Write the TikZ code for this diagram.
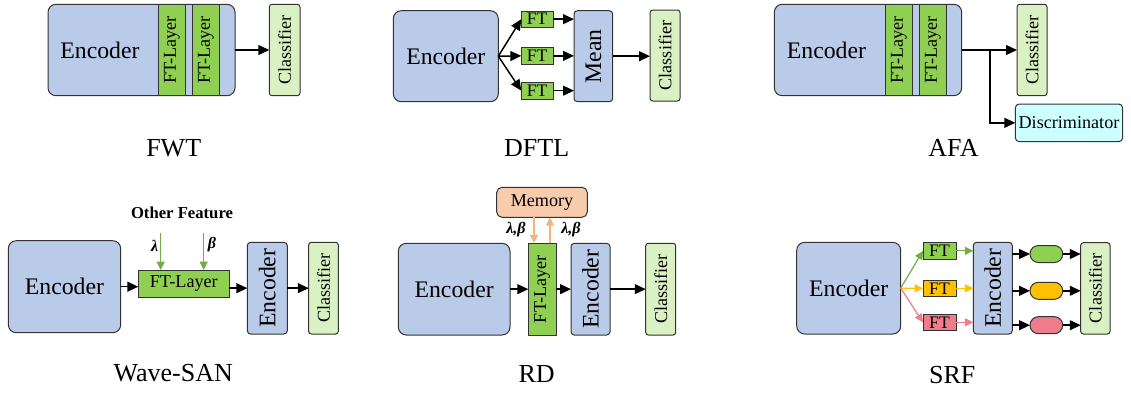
\documentclass[tikz,border=0pt]{standalone}
\usepackage{fontspec}
\setmainfont{Liberation Serif}
\usetikzlibrary{arrows.meta}
\definecolor{encblue}{HTML}{BACBE9}
\definecolor{ftgreen}{HTML}{8FD053}
\definecolor{clsgreen}{HTML}{D9F1C3}
\definecolor{disccyan}{HTML}{CCFFFF}
\definecolor{mempeach}{HTML}{F8CBAD}
\definecolor{memarrow}{HTML}{F4B183}
\definecolor{arrgreen}{HTML}{70AD47}
\definecolor{ftorange}{HTML}{FFC000}
\definecolor{ftpink}{HTML}{EE7C8C}
\definecolor{edgegray}{HTML}{333333}
% box from pixel corners: style, name, x1, y1, x2, y2, text
\newcommand\bx[7]{\node[#1, minimum width={(#5-#3)*0.75pt}, minimum height={(#6-#4)*0.75pt}] (#2) at ({(#3+#5)/2},{(#4+#6)/2}) {#7};}
\begin{document}
\begin{tikzpicture}[x=0.75pt,y=-0.75pt,
 base/.style={draw=edgegray, line width=0.75pt, inner sep=0pt, outer sep=0pt},
 encbox/.style={base, fill=encblue, rounded corners=6pt},
 encsmall/.style={base, fill=encblue, rounded corners=2.5pt},
 ftbox/.style={base, fill=ftgreen},
 clsbox/.style={base, fill=clsgreen, rounded corners=2pt},
 discbox/.style={base, fill=disccyan, rounded corners=3pt},
 membox/.style={base, fill=mempeach, rounded corners=4pt},
 pill/.style={base, rounded corners=6.3pt},
 bigtxt/.style={font=\fontsize{17.8}{20}\selectfont},
 midtxt/.style={font=\fontsize{13.6}{16}\selectfont},
 fttxt/.style={font=\fontsize{13.2}{15}\selectfont},
 titletxt/.style={font=\fontsize{19.5}{22}\selectfont},
 greektxt/.style={font=\fontsize{12}{14}\selectfont\bfseries\itshape},
 arr/.style={-{Triangle[length=8.2pt,width=7.4pt]}, line width=1.1pt, black},
 carr/.style={-{Triangle[length=6.3pt,width=6pt]}, line width=0.9pt},
]
\useasboundingbox (0,0) rectangle (1131,393);

% ---------------- FWT ----------------
\bx{encbox}{fwtE}{48}{4.3}{235}{95.7}{}
\node[bigtxt] (fwtEt) at (100,50) {Encoder};
\bx{ftbox, midtxt}{fwtF1}{158.3}{4.3}{185.3}{95.7}{\rotatebox{90}{FT-Layer}}
\bx{ftbox, midtxt}{fwtF2}{192.7}{4.3}{219.3}{95.7}{\rotatebox{90}{FT-Layer}}
\bx{clsbox, midtxt}{fwtC}{269.3}{4.3}{300}{95.7}{\rotatebox{90}{Classifier}}
\draw[arr] (fwtE.east) -- (fwtC.west);
\node[titletxt] (fwtT) at (173.7,148) {FWT};

% ---------------- DFTL ----------------
\bx{encbox, bigtxt}{dE}{393.3}{10.7}{498.3}{101.7}{Encoder}
\bx{ftbox, fttxt}{dF1}{521.3}{11}{553}{27.3}{FT}
\bx{ftbox, fttxt}{dF2}{521.3}{47.7}{553}{64}{FT}
\bx{ftbox, fttxt}{dF3}{521.3}{82.3}{553}{99}{FT}
\bx{encsmall, bigtxt}{dM}{574}{10.7}{612.7}{101.7}{\rotatebox{90}{Mean}}
\bx{clsbox, midtxt}{dC}{650}{10}{680}{101}{\rotatebox{90}{Classifier}}
\draw[arr] (dE.east) -- (dF1.west);
\draw[arr] (dE.east) -- (dF2.west);
\draw[arr] (dE.east) -- (dF3.west);
\draw[arr] (dF1.east) -- (dF1.east -| dM.west);
\draw[arr] (dF2.east) -- (dF2.east -| dM.west);
\draw[arr] (dF3.east) -- (dF3.east -| dM.west);
\draw[arr] (dM.east) -- (dM.east -| dC.west);
\node[titletxt] (dT) at (536.7,148) {DFTL};

% ---------------- AFA ----------------
\bx{encbox}{aE}{774.3}{4.3}{961.7}{95.7}{}
\node[bigtxt] (aEt) at (826.5,50) {Encoder};
\bx{ftbox, midtxt}{aF1}{885.3}{4.3}{912.3}{95.7}{\rotatebox{90}{FT-Layer}}
\bx{ftbox, midtxt}{aF2}{919.3}{4.3}{946.3}{95.7}{\rotatebox{90}{FT-Layer}}
\bx{clsbox, midtxt}{aC}{1017}{4.3}{1047}{95.7}{\rotatebox{90}{Classifier}}
\bx{discbox, midtxt}{aD}{1015.3}{104}{1122.7}{141.7}{Discriminator}
\coordinate (aB) at (990,50);
\draw[arr] (aE.east) -- (aE.east -| aC.west);
\draw[arr] (aB) |- (aD.west);
\node[titletxt] (aT) at (953.5,148) {AFA};

% ---------------- Wave-SAN ----------------
\node[font=\fontsize{12.5}{14}\selectfont\bfseries] (wO) at (182,212.7) {Other Feature};
\bx{encbox, bigtxt}{wE}{8.3}{240.7}{120.7}{332.7}{Encoder}
\bx{ftbox, midtxt}{wF}{138.3}{270}{229.3}{297.3}{FT-Layer}
\bx{encsmall, bigtxt}{wE2}{247.3}{242.3}{287.3}{334}{\rotatebox{90}{Encoder}}
\bx{clsbox, midtxt}{wC}{308.7}{242.3}{338.3}{334}{\rotatebox{90}{Classifier}}
\coordinate (wl) at (160.7,232.7);
\coordinate (wb) at (203.7,232.7);
\draw[carr, arrgreen] (wl) -- (wl |- wF.north);
\draw[carr, arrgreen] (wb) -- (wb |- wF.north);
\node[greektxt] (wlt) at (154.7,245.5) {λ};
\node[greektxt] (wbt) at (212,245) {β};
\draw[arr] (wE.east) -- (wE.east -| wF.west);
\draw[arr] (wF.east |- wE2.west) -- (wE2.west);
\draw[arr] (wE2.east) -- (wC.west);
\node[titletxt] (wT) at (173.3,372.7) {Wave-SAN};

% ---------------- RD ----------------
\bx{membox, midtxt}{rM}{496.7}{187.3}{587.3}{217.3}{Memory}
\bx{encbox, bigtxt}{rE}{398.3}{243.3}{510}{335}{Encoder}
\bx{ftbox, midtxt}{rF}{528.3}{243.3}{556}{335}{\rotatebox{90}{FT-Layer}}
\bx{encsmall, bigtxt}{rE2}{571}{243.3}{610}{335}{\rotatebox{90}{Encoder}}
\bx{clsbox, midtxt}{rC}{645.7}{243.3}{675.7}{335}{\rotatebox{90}{Classifier}}
\coordinate (rd) at (534,217.3);
\coordinate (ru) at (550,243.3);
\draw[carr, memarrow, line width=1.2pt] (rd) -- (rd |- rF.north);
\draw[carr, memarrow, line width=1.2pt] (ru) -- (ru |- rM.south);
\node[greektxt] (rl1) at (516,230) {λ,β};
\node[greektxt] (rl2) at (571,230) {λ,β};
\draw[arr] (rE.east) -- (rF.west);
\draw[arr] (rF.east) -- (rE2.west);
\draw[arr] (rE2.east) -- (rC.west);
\node[titletxt] (rT) at (536.7,374.3) {RD};

% ---------------- SRF ----------------
\bx{encbox, bigtxt}{sE}{796.7}{242.3}{900.7}{334}{Encoder}
\bx{base, fill=ftgreen, fttxt}{sF1}{923}{242.7}{956}{259}{FT}
\bx{base, fill=ftorange, fttxt}{sF2}{923}{280}{956}{296.7}{FT}
\bx{base, fill=ftpink, fttxt}{sF3}{923}{314}{956}{330.7}{FT}
\bx{encsmall, bigtxt}{sE2}{973.3}{242.3}{1012.3}{334}{\rotatebox{90}{Encoder}}
\bx{pill, fill=ftgreen}{sP1}{1030}{245.5}{1062.7}{262.5}{}
\bx{pill, fill=ftorange}{sP2}{1030}{282.3}{1062.7}{299.3}{}
\bx{pill, fill=ftpink}{sP3}{1030}{316.7}{1062.7}{333.7}{}
\bx{clsbox, midtxt}{sC}{1080.7}{242.7}{1110}{334}{\rotatebox{90}{Classifier}}
\draw[carr, arrgreen] (sE.east) -- (sF1.west);
\draw[carr, ftorange] (sE.east) -- (sF2.west);
\draw[carr, ftpink] (sE.east) -- (sF3.west);
\draw[carr, arrgreen] (sF1.east) -- (sF1.east -| sE2.west);
\draw[carr, ftorange] (sF2.east) -- (sF2.east -| sE2.west);
\draw[carr, ftpink] (sF3.east) -- (sF3.east -| sE2.west);
\draw[arr] (sE2.east |- sP1.west) -- (sP1.west);
\draw[arr] (sE2.east |- sP2.west) -- (sP2.west);
\draw[arr] (sE2.east |- sP3.west) -- (sP3.west);
\draw[arr] (sP1.east) -- (sP1.east -| sC.west);
\draw[arr] (sP2.east) -- (sP2.east -| sC.west);
\draw[arr] (sP3.east) -- (sP3.east -| sC.west);
\node[titletxt] (sT) at (952.2,375) {SRF};
\end{tikzpicture}
\end{document}
